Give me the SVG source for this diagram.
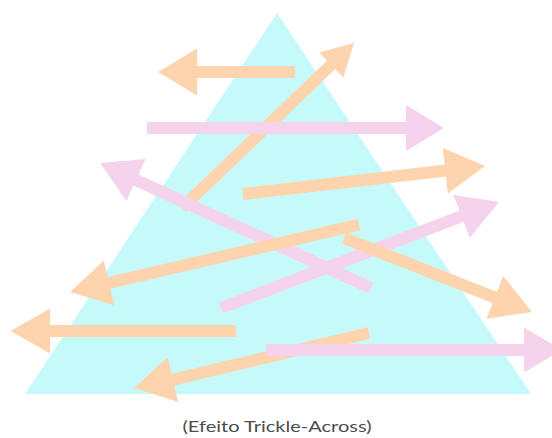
<svg xmlns="http://www.w3.org/2000/svg" width="552" height="438" viewBox="0 0 552 438">
  <style>
    .o line { stroke: #FED4AE; stroke-width: 12; stroke-linecap: butt; }
    .o polygon { fill: #FED4AE; }
    .p line { stroke: #F6D3EC; stroke-width: 12; stroke-linecap: butt; }
    .p polygon { fill: #F6D3EC; }
    .cap { font-family: Lato, "Noto Sans", "Liberation Sans", sans-serif; font-size: 15px; fill: #4d4d4d; }
  </style>
  <rect width="552" height="438" fill="#ffffff"/>
  <g id="pyramid">
    <polygon points="277,13 25,394 531,394" fill="#C6FAFA"/>
  </g>
  <g id="connectors">
    <g id="a1" class="o"><line x1="295" y1="72" x2="196" y2="72"/><polygon points="197,48.5 158,72 197,95.5"/></g>
    <g id="a3" class="o"><line x1="182" y1="208" x2="332" y2="64"/><polygon points="319,52.5 354,43 343.5,77.5"/></g>
    <g id="a2" class="p"><line x1="147" y1="128" x2="407" y2="128"/><polygon points="406,105 444,128 406,151"/></g>
    <g id="a4" class="o"><line x1="243" y1="194" x2="446" y2="170.5"/><polygon points="442.7,147.8 485,166 447.9,193.4"/></g>
    <g id="a5" class="p"><line x1="371" y1="288" x2="135" y2="179.5"/><polygon points="145.6,159 100,163 126.4,201"/></g>
    <g id="a7" class="o"><line x1="359" y1="224.5" x2="108" y2="283.2"/><polygon points="103.8,260.5 70,292 114.2,305.3"/></g>
    <g id="a6" class="p"><line x1="221" y1="308" x2="462.5" y2="215.9"/><polygon points="453.4,194.7 499,202 469.8,237.7"/></g>
    <g id="a8" class="o"><line x1="344" y1="238" x2="495.7" y2="297.8"/><polygon points="503.2,276 532,312 486.4,318.8"/></g>
    <g id="a9" class="o"><line x1="236" y1="331" x2="49" y2="331"/><polygon points="50,308.5 10.5,331 50,353.5"/></g>
    <g id="a11" class="o"><line x1="369" y1="333" x2="172" y2="379.9"/><polygon points="167.6,357.3 134,388 178.2,402.1"/></g>
    <g id="a10" class="p"><line x1="266" y1="350" x2="525" y2="350"/><polygon points="524,327.5 562,350 524,372.5"/></g>
  </g>
  <text class="cap" x="277" y="432" text-anchor="middle" textLength="189" lengthAdjust="spacingAndGlyphs">(Efeito Trickle-Across)</text>
</svg>
